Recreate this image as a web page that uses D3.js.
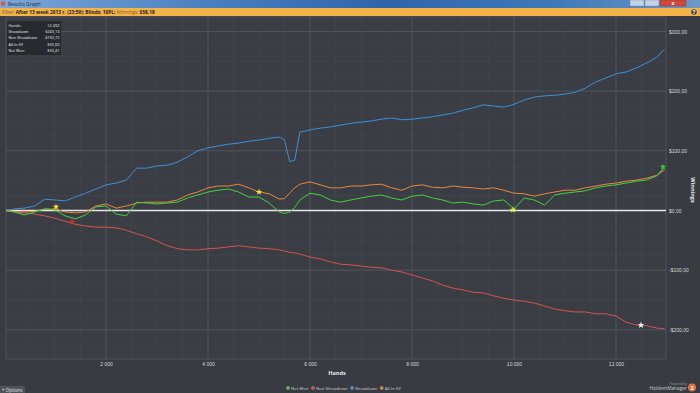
<!DOCTYPE html>
<html><head><meta charset="utf-8">
<script src="https://cdn.jsdelivr.net/npm/d3@7"></script>
<style>
html,body{margin:0;padding:0;background:#383c42;overflow:hidden}
svg{display:block;font-family:"Open Sans","DejaVu Sans",sans-serif}
</style></head>
<body><svg id="c" width="700" height="393"></svg>
<script>
// ---- data ----
const hands = [50,200,400,600,800,1000,1200,1400,1600,1800,2000,2200,2400,2600,2800,3000,3200,3400,3600,3800,4000,4200,4400,4600,4800,5000,5200,5400,5500,5600,5700,5800,6000,6200,6400,6600,6800,7000,7200,7400,7600,7800,8000,8200,8400,8600,8800,9000,9200,9400,9600,9800,10000,10200,10400,10600,10800,11000,11200,11400,11600,11800,12000,12200,12400,12600,12800,12950];
const showdown = [0,2.5,4,7.5,19,17.6,16,22.6,29,36,43,46,51,71,71,74.5,76,81,90,100,105,108,111,113,116,118,121,123,118,82,84,131,135,138,140,143,146,148,150,153,155,152,153,155,157,160,163,168,172,177,175,173,178,185,190,192,193,195,198,205,215,222,229,232,239,247,257,270];
const nonShowdown = [0,-2.5,-4,-6,-9,-13,-18,-23,-26,-28,-28,-29,-33,-39,-44,-51,-59,-64,-66,-66,-64,-63,-61,-59,-61,-63,-64,-66,-68,-70,-71,-73,-78,-81,-86,-90,-91,-93,-95,-96,-100,-103,-108,-113,-118,-125,-130,-133,-137,-138,-143,-147,-150,-152,-155,-160,-165,-168,-170,-170,-173,-173,-177,-187,-192,-193,-197,-198];
const netWon = [0,-2.5,-7.5,-2.5,2.5,1,-9,-14,-7.5,6,7.5,-6,-9,14,12.5,11,12.5,14,21,26,31,34,36,31,22.6,22.6,12.5,-2.5,-5,-2.5,5,17.6,29,26,17.6,14,17.6,21,24,26,21,17.6,24,26,21,17.6,12.5,14,11,9,16,17.6,2.5,21,17.6,9,26,29,31,33,38,41,43,46,49,51,58,73];
const allInEV = [0,-1.5,-2.5,-1.5,2.5,2.5,-2.5,-4,-2.5,7.5,11,4,7.5,12.5,14,14,14,17.6,26,31,38,41,41,44,38,31,28,19,20,29,38,44,48,43,38,38,41,41,43,44,38,34,41,43,39,38,41,39,38,36,38,34,29,28,24,28,31,34,34,38,41,44,46,49,51,54,59,68];
const markerHands = [1020,1333,5000,9980,12490,12920];
const markerValues = [6,-19,31,1,-192,73];
const markerColors = ["#f5e63a","#e0262a","#f5e63a","#d8f23a","#ffffff","#3ec43e"];
const xTicks = [2000,4000,6000,8000,10000,12000];
const yTicks = [-200,-100,0,100,200,300];
const seriesNames = ["Net Won","Non Showdown","Showdown","All-In EV"];
const seriesColors = ["#43d13f","#d2544c","#3f8fd2","#e7883c"];
const statLabels = ["Hands:","Showdown","Non Showdown","All-In EV","Net Won"];
const statValues = ["12 492","$243,13","-$192,72","$55,60","$50,41"];

// ---- layout ----
const svg = d3.select("#c");
const plot = {l:6, r:666, t:17, b:359};
const x = d3.scaleLinear().domain([0,12000]).range([4,616]);
const y = d3.scaleLinear().domain([0,100]).range([210.5,150.8]);

const defs = svg.append("defs");
const tg = defs.append("linearGradient").attr("id","tb").attr("x1",0).attr("x2",1).attr("y1",0).attr("y2",0);
[["0%","#7da7d6"],["30%","#4a7fbf"],["55%","#2f65a8"],["80%","#3f7ab8"],["100%","#6d98c8"]].forEach(s=>tg.append("stop").attr("offset",s[0]).attr("stop-color",s[1]));
defs.append("clipPath").attr("id","pc").append("rect").attr("x",plot.l).attr("y",plot.t).attr("width",plot.r-plot.l).attr("height",plot.b-plot.t);

// background
svg.append("rect").attr("width",700).attr("height",393).attr("fill","#383c42");
svg.append("rect").attr("x",plot.l).attr("y",plot.t).attr("width",plot.r-plot.l).attr("height",plot.b-plot.t).attr("fill","#3a3e44");

// grid
const gGrid = svg.append("g").attr("clip-path","url(#pc)");
d3.range(0,13500,500).forEach(h=>{
  gGrid.append("line").attr("x1",x(h)).attr("x2",x(h)).attr("y1",plot.t).attr("y2",plot.b).attr("stroke","#43474d").attr("stroke-width",0.6);
});
d3.range(-275,350,25).forEach(v=>{
  gGrid.append("line").attr("x1",plot.l).attr("x2",plot.r).attr("y1",y(v)).attr("y2",y(v)).attr("stroke","#43474d").attr("stroke-width",0.6);
});
xTicks.forEach(h=>{
  gGrid.append("line").attr("x1",x(h)).attr("x2",x(h)).attr("y1",plot.t).attr("y2",plot.b).attr("stroke","#53575d").attr("stroke-width",0.8);
});
yTicks.forEach(v=>{
  gGrid.append("line").attr("x1",plot.l).attr("x2",plot.r).attr("y1",y(v)).attr("y2",y(v)).attr("stroke","#53575d").attr("stroke-width",0.8);
});
svg.append("rect").attr("x",plot.l).attr("y",plot.t).attr("width",plot.r-plot.l).attr("height",plot.b-plot.t).attr("fill","none").attr("stroke","#55595f").attr("stroke-width",0.8);

// axes
const yAxis = d3.axisRight(y).tickValues(yTicks).tickSize(0).tickPadding(3)
  .tickFormat(v=>(v<0?"-$":"$")+Math.abs(v)+",00");
const ya = svg.append("g").attr("transform",`translate(${plot.r},0)`).call(yAxis);
ya.select(".domain").remove();
ya.selectAll("text").attr("fill","#d8d8d8").style("font-size","5px");

const xAxis = d3.axisBottom(x).tickValues(xTicks).tickSize(0).tickPadding(3)
  .tickFormat(v=>d3.format(",")(v).replace(","," "));
const xa = svg.append("g").attr("transform",`translate(0,${plot.b})`).call(xAxis);
xa.select(".domain").remove();
xa.selectAll("text").attr("fill","#d8d8d8").style("font-size","5px");

svg.append("text").attr("x",337).attr("y",375).attr("text-anchor","middle").attr("fill","#e8e8e8").style("font-size","5.5px").style("font-weight","bold").text("Hands");
svg.append("text").attr("transform","translate(691,190) rotate(90)").attr("text-anchor","middle").attr("fill","#e8e8e8").style("font-size","5.5px").style("font-weight","bold").text("Winnings");

// zero line
svg.append("line").attr("x1",plot.l).attr("x2",plot.r).attr("y1",y(0)).attr("y2",y(0)).attr("stroke","#e6e6e6").attr("stroke-width",1.6);

// series
const seriesData = [netWon, nonShowdown, showdown, allInEV];
const line = d3.line().x((d,i)=>x(hands[i])).y(d=>y(d)).curve(d3.curveLinear);
const gLines = svg.append("g").attr("clip-path","url(#pc)");
[2,1,3,0].forEach(k=>{
  gLines.append("path").datum(seriesData[k]).attr("d",line).attr("fill","none")
    .attr("stroke",seriesColors[k]).attr("stroke-width",1).attr("stroke-linejoin","round");
});
markerHands.forEach((h,i)=>{
  gLines.append("path").attr("d",d3.symbol(d3.symbolStar,14)()).attr("transform",`translate(${x(h)},${y(markerValues[i])})`).attr("fill",markerColors[i]);
});

// title bar
svg.append("rect").attr("x",0).attr("y",0).attr("width",700).attr("height",8).attr("fill","url(#tb)");
svg.append("rect").attr("x",1).attr("y",1.5).attr("width",4).attr("height",4).attr("fill","#d9534f").attr("rx",0.5);
svg.append("text").attr("x",8).attr("y",5.8).attr("fill","#1e2a3a").style("font-size","5px").text("Results Graph");
svg.append("rect").attr("x",630).attr("y",0).attr("width",14).attr("height",6).attr("fill","#c4d3e6").attr("stroke","#6c84a6").attr("stroke-width",0.4);
svg.append("rect").attr("x",645).attr("y",0).attr("width",14).attr("height",6).attr("fill","#c4d3e6").attr("stroke","#6c84a6").attr("stroke-width",0.4);
svg.append("rect").attr("x",660).attr("y",0).attr("width",26).attr("height",6).attr("fill","#cf4a3c").attr("stroke","#8c2a22").attr("stroke-width",0.4);
svg.append("text").attr("x",673).attr("y",5).attr("text-anchor","middle").attr("fill","#fff").style("font-size","5px").style("font-weight","bold").text("x");

// filter bar
svg.append("rect").attr("x",0).attr("y",8).attr("width",700).attr("height",8).attr("fill","#f2b449");
const ft = svg.append("text").attr("x",2).attr("y",14).style("font-size","4.8px");
ft.append("tspan").attr("fill","#6b5a3a").text("Filter: ");
ft.append("tspan").attr("fill","#2a2218").style("font-weight","bold").text("After 13 week 2013 г. (23:59); Blinds: 10PL; ");
ft.append("tspan").attr("fill","#8a5a1a").text("Winnings: ");
ft.append("tspan").attr("fill","#2a2218").style("font-weight","bold").text("$58,18");
svg.append("circle").attr("cx",694).attr("cy",12).attr("r",2.8).attr("fill","#4a4a4a");
svg.append("text").attr("x",694).attr("y",13.8).attr("text-anchor","middle").attr("fill","#fff").style("font-size","4.5px").style("font-weight","bold").text("?");

// stats box
svg.append("rect").attr("x",7).attr("y",21).attr("width",54).attr("height",34).attr("fill","#25282c").attr("opacity",0.92);
statLabels.forEach((s,i)=>{
  svg.append("text").attr("x",8.5).attr("y",27.2+i*6.1).attr("fill","#ececec").style("font-size","3.9px").text(s);
  svg.append("text").attr("x",59.5).attr("y",27.2+i*6.1).attr("text-anchor","end").attr("fill","#ececec").style("font-size","3.9px").text(statValues[i]);
});

// legend (laid out sequentially)
const leg = svg.append("g");
let lx = 288;
seriesNames.forEach((n,i)=>{
  leg.append("circle").attr("cx",lx).attr("cy",388).attr("r",1.7).attr("fill",seriesColors[i]).attr("stroke","#8a8a8a").attr("stroke-width",0.4);
  const t = leg.append("text").attr("x",lx+3).attr("y",389.7).attr("fill","#cfcfcf").style("font-size","4.3px").text(n);
  lx += 3 + t.node().getComputedTextLength() + 4.5;
});

// options button
svg.append("rect").attr("x",0).attr("y",386).attr("width",25).attr("height",7).attr("fill","#50545a");
svg.append("text").attr("x",2).attr("y",391.5).attr("fill","#e0e0e0").style("font-size","4.5px").text("+  Options");

// powered by
svg.append("text").attr("x",687).attr("y",384.5).attr("text-anchor","end").attr("fill","#9a9a9a").style("font-size","3.2px").text("Powered by");
svg.append("text").attr("x",687).attr("y",390).attr("text-anchor","end").attr("fill","#c8c8c8").style("font-size","4.8px").text("HoldemManager");
svg.append("circle").attr("cx",692).attr("cy",387.5).attr("r",4).attr("fill","#e2703a");
svg.append("text").attr("x",692).attr("y",389.5).attr("text-anchor","middle").attr("fill","#fff").style("font-size","5.5px").style("font-weight","bold").text("2");
</script></body></html>
